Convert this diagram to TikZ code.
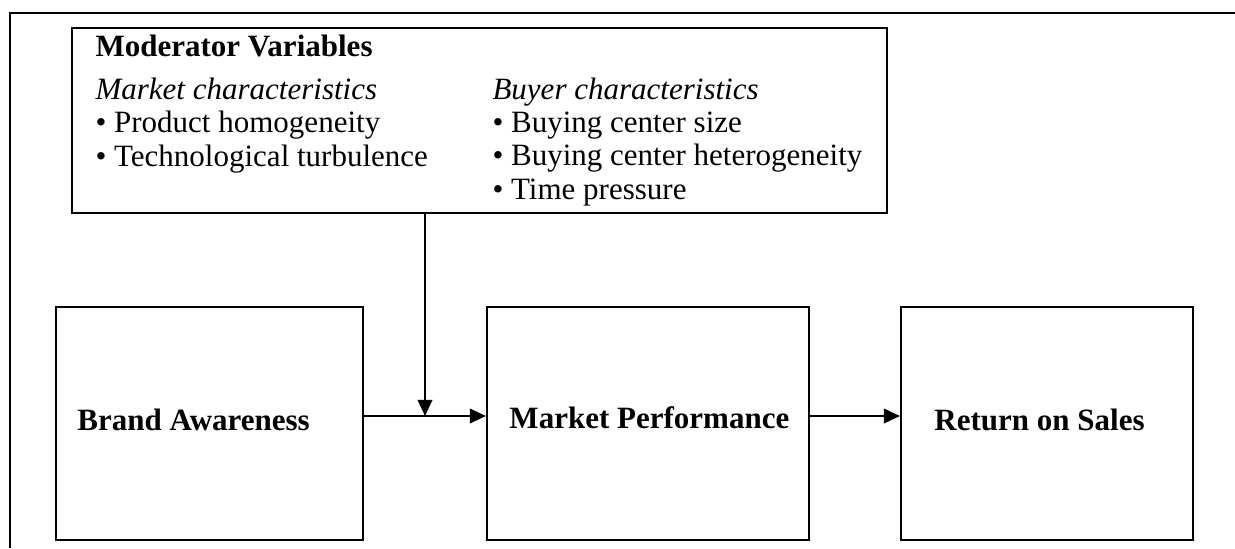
\documentclass[tikz,border=0pt]{standalone}
\usepackage{fontspec}
\setmainfont{Liberation Serif}
\usepackage{tikz}
\usetikzlibrary{arrows.meta,positioning,calc}

\begin{document}
\begin{tikzpicture}[
  x=0.387pt, y=-0.387pt,
  txt/.style={inner sep=0pt, font=\fontsize{12}{12.8}\selectfont},
  head/.style={txt, font=\fontsize{12}{12.8}\selectfont\bfseries},
  box/.style={draw, rectangle, line width=0.8pt, inner sep=0pt},
  stage/.style={box, minimum width=#1*0.387pt, minimum height=233*0.387pt},
  ptr/.style={-{Triangle[length=6.2pt, width=5.6pt]}, line width=0.8pt},
  frame/.style={line width=0.8pt}
]
\useasboundingbox (0,0) rectangle (1235,548);
\draw[frame] (1235,13) -- (10,13) -- (10,548);
% moderator box
\node[box, minimum width=815*0.387pt, minimum height=185*0.387pt] (mod) at (479.5,120.5) {};
\node[head, anchor=base west] (modtitle) at (95,56) {Moderator Variables};
% multi-line nodes sit on the baseline of their last line
\node[txt, anchor=base west, align=left] (market) at (95,166)
  {\textit{Market characteristics}\\ \textbullet\ Product homogeneity\\ \textbullet\ Technological turbulence};
\node[txt, anchor=base west, align=left] (buyer) at (492,199)
  {\textit{Buyer characteristics}\\ \textbullet\ Buying center size\\ \textbullet\ Buying center heterogeneity\\ \textbullet\ Time pressure};
% constructs
\node[stage=307] (brand) at (209.5,423.5) {};
\node[stage=322] (perf) at (648,423.5) {};
\node[stage=292] (ros) at (1047,423.5) {};
\node[head, anchor=base west] (brandlbl) at ($(brand.west)+(22,6.5)$) {Brand Awareness};
\node[head, anchor=base west] (perflbl) at ($(perf.west)+(23,5)$) {Market Performance};
\node[head, anchor=base west] (roslbl) at ($(ros.west)+(34,6.5)$) {Return on Sales};
% paths
\coordinate (join) at (425,416);
\draw[ptr] (mod.south -| join) -- (join);
\draw[ptr] (brand.east |- join) -- (perf.west |- join);
\draw[ptr] (perf.east |- join) -- (ros.west |- join);
\end{tikzpicture}
\end{document}
